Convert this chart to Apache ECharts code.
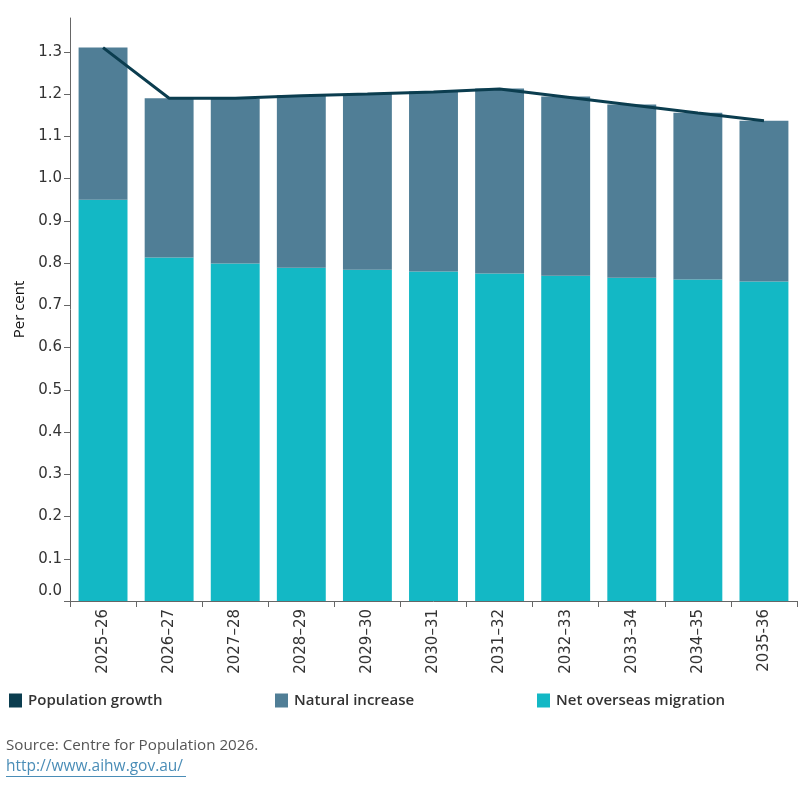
<!DOCTYPE html>
<html>
<head>
<meta charset="utf-8">
<script src="https://cdn.jsdelivr.net/npm/echarts@6/dist/echarts.min.js"></script>
<style>
html,body{margin:0;padding:0;background:#fff;}
#chart{width:800px;height:800px;}
</style>
</head>
<body>
<div id="chart"></div>
<script>
const categories = ['2025–26','2026–27','2027–28','2028–29','2029–30','2030–31','2031–32','2032–33','2033–34','2034–35','2035-36'];
const netOverseasMigration = [0.950, 0.813, 0.799, 0.789, 0.784, 0.780, 0.775, 0.770, 0.765, 0.761, 0.756];
const naturalIncrease = [0.360, 0.377, 0.389, 0.408, 0.416, 0.426, 0.438, 0.424, 0.410, 0.395, 0.381];
const populationGrowth = [1.310, 1.190, 1.190, 1.196, 1.200, 1.205, 1.212, 1.193, 1.174, 1.155, 1.137];
const yTicks = [0, 0.1, 0.2, 0.3, 0.4, 0.5, 0.6, 0.7, 0.8, 0.9, 1.0, 1.1, 1.2, 1.3];

const C_NOM = '#13B8C5';
const C_NAT = '#507E96';
const C_POP = '#0B3D4F';

const chart = echarts.init(document.getElementById('chart'), null, {renderer:'canvas'});
const legendBase = {
  top: 693, padding: 0, icon: 'rect', itemWidth: 13, itemHeight: 14, itemGap: 6,
  textStyle: {fontFamily: 'Open Sans', fontSize: 15, fontWeight: 600, color: '#333', padding: [0, 0, 0, 1]},
  selectedMode: false
};
chart.setOption({
  animation: false,
  grid: {left: 70, right: 3, top: 18, bottom: 199, containLabel: false},
  legend: [
    Object.assign({}, legendBase, {left: 9, data: ['Population growth']}),
    Object.assign({}, legendBase, {left: 275, data: ['Natural increase']}),
    Object.assign({}, legendBase, {left: 537, data: ['Net overseas migration']})
  ],
  xAxis: {
    type: 'category', data: categories, boundaryGap: true,
    axisLine: {show: true, lineStyle: {color: '#666', width: 1}},
    axisTick: {show: true, length: 6, lineStyle: {color: '#666'}},
    axisLabel: {rotate: 90, margin: 8, fontFamily: 'DejaVu Sans', fontSize: 15, color: '#333', interval: 0}
  },
  yAxis: {
    type: 'value', min: 0, max: 1.38,
    name: 'Per cent', nameLocation: 'middle', nameGap: 36, nameRotate: 90,
    nameTextStyle: {fontFamily: 'Open Sans', fontSize: 15, color: '#111'},
    axisLine: {show: true, lineStyle: {color: '#666', width: 1}},
    axisTick: {show: true, length: 6, lineStyle: {color: '#666'}, customValues: yTicks},
    splitLine: {show: false},
    axisLabel: {
      customValues: yTicks, margin: 8, fontFamily: 'DejaVu Sans', fontSize: 15, color: '#333',
      formatter: function (v) { return v === 0 ? '{z|0.0}' : v.toFixed(1); },
      rich: {z: {fontFamily: 'DejaVu Sans', fontSize: 15, color: '#333', padding: [0, 0, 20, 0]}}
    }
  },
  series: [
    {name: 'Net overseas migration', type: 'bar', stack: 'total', data: netOverseasMigration,
     itemStyle: {color: C_NOM}, barCategoryGap: '26%'},
    {name: 'Natural increase', type: 'bar', stack: 'total', data: naturalIncrease,
     itemStyle: {color: C_NAT}},
    {name: 'Population growth', type: 'line', data: populationGrowth, symbol: 'none',
     lineStyle: {color: C_POP, width: 3}, itemStyle: {color: C_POP}, z: 5}
  ],
  graphic: [
    {type: 'text', left: 6, top: 738, style: {text: 'Source: Centre for Population 2026.', fontFamily: 'Open Sans', fontSize: 15.2, fill: '#555'}},
    {type: 'text', left: 6, top: 759, style: {text: 'http://www.aihw.gov.au/', fontFamily: 'Open Sans', fontSize: 15.5, fill: '#4A8DB7'}},
    {type: 'rect', left: 6, top: 776, shape: {width: 180, height: 1}, style: {fill: '#4A8DB7'}}
  ]
});
</script>
</body>
</html>
